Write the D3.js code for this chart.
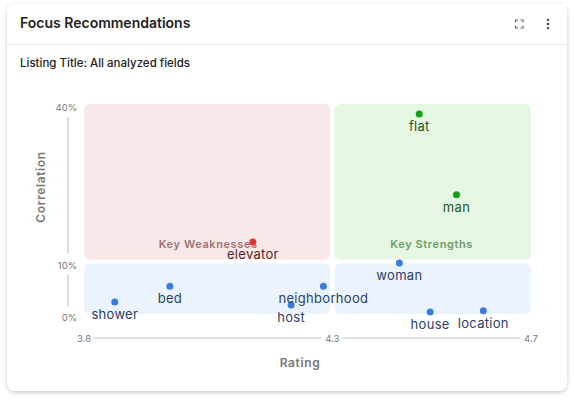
<!DOCTYPE html>
<meta charset="utf-8">
<style>
body { margin: 0; background: #fff; font-family: Inter, "Open Sans", sans-serif; }
</style>
<svg width="574" height="400"></svg>
<script src="https://cdn.jsdelivr.net/npm/d3@7"></script>
<script>
var words = ["elevator", "flat", "man", "woman", "neighborhood", "house", "location", "shower", "bed", "host"];
var ratings = [4.14, 4.475, 4.55, 4.435, 4.282, 4.497, 4.604, 3.862, 3.973, 4.217];
var correlations = [13.7, 38.1, 22.7, 9.7, 5.3, 0.4, 0.6, 2.3, 5.3, 1.7];
var xTicks = [3.8, 4.3, 4.7];
var yTicks = [0, 10, 40];

var svg = d3.select("svg");

// card
var defs = svg.append("defs");
var f = defs.append("filter").attr("id", "sh").attr("x", "-5%").attr("y", "-5%").attr("width", "110%").attr("height", "110%");
f.append("feDropShadow").attr("dx", 0).attr("dy", 1.5).attr("stdDeviation", 2).attr("flood-color", "#000").attr("flood-opacity", 0.22);
svg.append("rect").attr("x", 7).attr("y", 4).attr("width", 560).attr("height", 387).attr("rx", 8)
  .attr("fill", "#fff").attr("filter", "url(#sh)");
svg.append("line").attr("x1", 7).attr("x2", 567).attr("y1", 44.5).attr("y2", 44.5).attr("stroke", "#ececec");
svg.append("text").attr("x", 20).attr("y", 28).text("Focus Recommendations")
  .attr("font-size", 14).attr("font-weight", 600).attr("fill", "#222");
svg.append("text").attr("x", 20).attr("y", 67).text("Listing Title: All analyzed fields")
  .attr("font-size", 11.5).attr("font-weight", 500).attr("fill", "#222");

// icons
var ic = svg.append("g").attr("stroke", "#666").attr("stroke-width", 1.2).attr("fill", "none");
ic.append("path").attr("d", "M515.5,22.5v-2.5h2.5 M520.5,20h2.5v2.5 M523,25.5v2.5h-2.5 M518,28h-2.5v-2.5");
[20, 24, 28].forEach(function(y) {
  svg.append("circle").attr("cx", 548).attr("cy", y).attr("r", 1.3).attr("fill", "#555");
});

var x = d3.scaleLinear().domain([3.8, 4.7]).range([84, 531]);
var y = d3.scaleLinear().domain([0, 40]).range([314, 104]);
var g = 2;

// quadrants
var quads = [
  { x0: 3.8, x1: 4.3, y0: 10, y1: 40, fill: "#f9e8e8" },
  { x0: 4.3, x1: 4.7, y0: 10, y1: 40, fill: "#e5f6e3" },
  { x0: 3.8, x1: 4.3, y0: 0, y1: 10, fill: "#eaf3fe" },
  { x0: 4.3, x1: 4.7, y0: 0, y1: 10, fill: "#eaf3fe" }
];
svg.selectAll(".q").data(quads).join("rect")
  .attr("x", function(d) { return x(d.x0) + (d.x0 > 3.8 ? g : 0); })
  .attr("width", function(d) { return x(d.x1) - x(d.x0) - (d.x0 > 3.8 ? g : 0) - (d.x1 < 4.7 ? g : 0); })
  .attr("y", function(d) { return y(d.y1) + (d.y1 < 40 ? g : 0); })
  .attr("height", function(d) { return y(d.y0) - y(d.y1) - (d.y1 < 40 ? g : 0) - (d.y0 > 0 ? g : 0); })
  .attr("rx", 6).attr("fill", function(d) { return d.fill; });

svg.append("text").attr("x", (x(3.8) + x(4.3)) / 2).attr("y", 248).attr("text-anchor", "middle")
  .text("Key Weaknesses").attr("font-size", 11).attr("font-weight", 600).attr("letter-spacing", 0.6).attr("fill", "#a07272");
svg.append("text").attr("x", (x(4.3) + x(4.7)) / 2).attr("y", 248).attr("text-anchor", "middle")
  .text("Key Strengths").attr("font-size", 11).attr("font-weight", 600).attr("letter-spacing", 0.6).attr("fill", "#6b9e68");

// x axis: labels with segments between them
var axisY = 338;
xTicks.forEach(function(t, i) {
  svg.append("text").attr("x", x(t)).attr("y", axisY + 3.5).attr("text-anchor", "middle")
    .text(t.toFixed(1)).attr("font-size", 9.5).attr("fill", "#777");
  if (i < xTicks.length - 1) {
    svg.append("line").attr("x1", x(t) + 10).attr("x2", x(xTicks[i + 1]) - 11)
      .attr("y1", axisY).attr("y2", axisY).attr("stroke", "#d4d4d4").attr("stroke-width", 1.5);
  }
});
svg.append("text").attr("x", 300).attr("y", 367).attr("text-anchor", "middle")
  .text("Rating").attr("font-size", 12).attr("font-weight", 600).attr("letter-spacing", 0.6).attr("fill", "#777");

// y axis
var axisX = 68;
yTicks.forEach(function(t, i) {
  svg.append("text").attr("x", 77).attr("y", y(t) + 7).attr("text-anchor", "end")
    .text(t + "%").attr("font-size", 9.5).attr("fill", "#777");
  if (i < yTicks.length - 1) {
    svg.append("line").attr("x1", axisX).attr("x2", axisX)
      .attr("y1", y(t) - 8).attr("y2", y(yTicks[i + 1]) + 13).attr("stroke", "#d4d4d4").attr("stroke-width", 1.5);
  }
});
svg.append("text").attr("transform", "translate(45,187) rotate(-90)")
  .attr("text-anchor", "middle").text("Correlation").attr("font-size", 12).attr("font-weight", 600)
  .attr("letter-spacing", 0.6).attr("fill", "#777");

// points
var data = words.map(function(w, i) { return { word: w, r: ratings[i], c: correlations[i] }; });
function dotColor(d) {
  if (d.c < 10) return "#3a7be0";
  return d.r >= 4.3 ? "#12a112" : "#e03232";
}
function textColor(d) {
  if (d.c < 10) return "#2a3f66";
  return d.r >= 4.3 ? "#1c5a1c" : "#5c1e1e";
}
svg.selectAll(".pt").data(data).join("circle")
  .attr("cx", function(d) { return x(d.r); }).attr("cy", function(d) { return y(d.c); })
  .attr("r", 3.5).attr("fill", dotColor);
svg.selectAll(".lb").data(data).join("text")
  .attr("x", function(d) { return x(d.r); }).attr("y", function(d) { return y(d.c) + 17; })
  .attr("text-anchor", "middle").text(function(d) { return d.word; })
  .attr("font-size", 13).attr("letter-spacing", 0.3).attr("fill", textColor);
</script>
